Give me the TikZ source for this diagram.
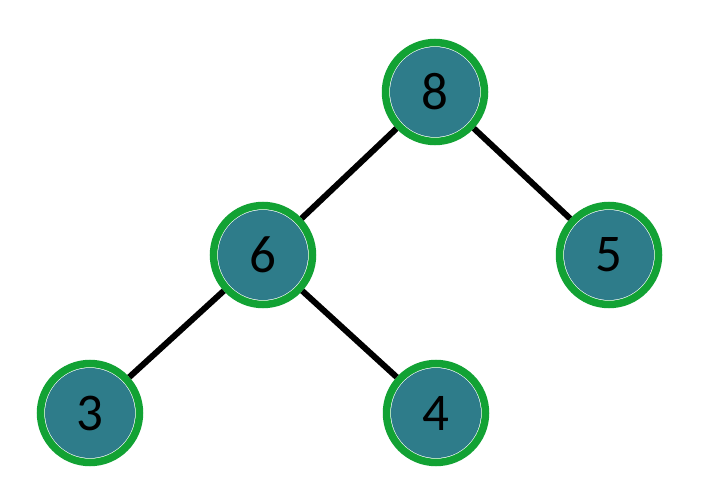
\documentclass[tikz,border=0pt]{standalone}
\usepackage{fontspec}
\setmainfont{Carlito}
\definecolor{ringgreen}{RGB}{18,162,52}
\definecolor{nodeteal}{RGB}{46,124,138}
\begin{document}
\begin{tikzpicture}[x=1pt,y=1pt,
  treenode/.style={circle,draw=ringgreen,line width=7.5pt,fill=white,
    minimum size=99pt,inner sep=0pt,font=\fontsize{53}{53}\selectfont,
    path picture={\fill[nodeteal] (path picture bounding box.center) circle (45pt);}},
  edge/.style={line width=6pt,black}]
\useasboundingbox (0,0) rectangle (706,496);
% tree nodes
\node[treenode] (n8) at (435,404) {8};
\node[treenode] (n6) at (263,241) {6};
\node[treenode] (n5) at (609,241) {5};
\node[treenode] (n3) at (90,83) {3};
\node[treenode] (n4) at (436,83) {4};
% parent-child links
\draw[edge] (n8) -- (n6);
\draw[edge] (n8) -- (n5);
\draw[edge] (n6) -- (n3);
\draw[edge] (n6) -- (n4);
\end{tikzpicture}
\end{document}
